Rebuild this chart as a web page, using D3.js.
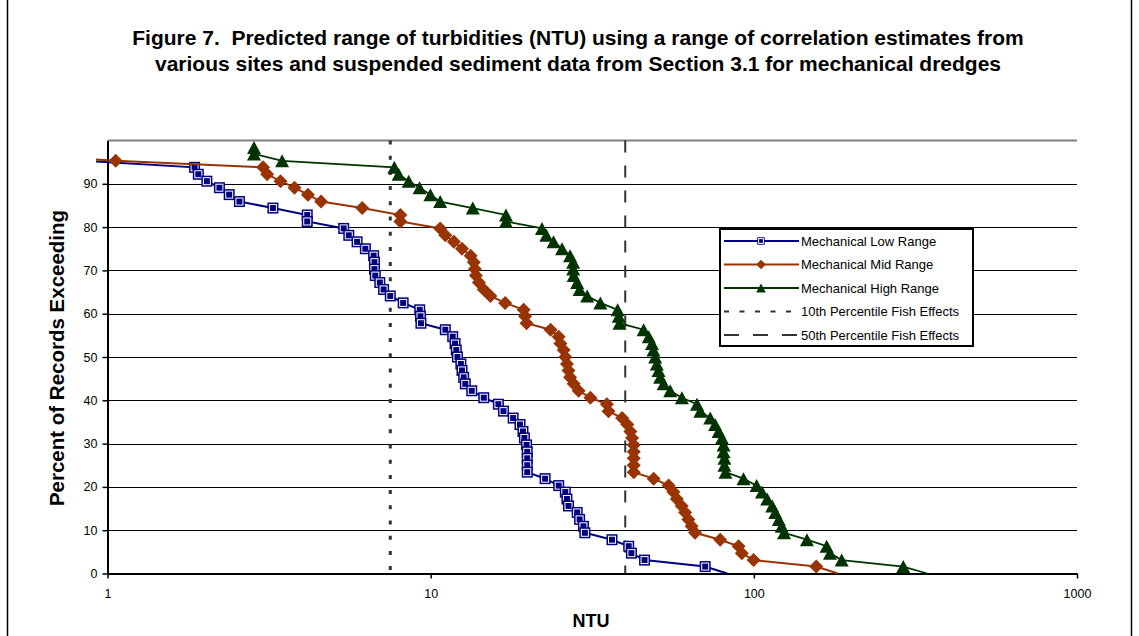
<!DOCTYPE html>
<html>
<head>
<meta charset="utf-8">
<script src="https://cdn.jsdelivr.net/npm/d3@7"></script>
<style>
  body { margin: 0; background: #fff; }
  svg { display: block; font-family: Arial, "Liberation Sans", sans-serif; }
</style>
</head>
<body>
<svg id="chart" width="1139" height="636"></svg>
<script>
// percent of records exceeding (shared by the three ranges)
const percentExceeding = [
  98.4, 96.9, 95.3, 93.8, 92.2, 90.6, 89.1, 87.5, 85.9, 84.4, 82.8, 81.3,
  79.7, 78.1, 76.6, 75.0, 73.4, 71.9, 70.3, 68.8, 67.2, 65.6, 64.1, 62.5,
  60.9, 59.4, 57.8, 56.3, 54.7, 53.1, 51.6, 50.0, 48.4, 46.9, 45.3, 43.8,
  42.2, 40.6, 39.1, 37.5, 35.9, 34.4, 32.8, 31.3, 29.7, 28.1, 26.6, 25.0,
  23.4, 21.9, 20.3, 18.8, 17.2, 15.6, 14.1, 12.5, 10.9, 9.4, 7.8, 6.3,
  4.7, 3.1, 1.6, 0,
];

// NTU values
const lowRange = [
  0.68, 0.68, 0.84, 1.86, 1.91, 2.03, 2.22, 2.38, 2.56, 3.25, 4.15, 4.15,
  5.38, 5.58, 5.92, 6.28, 6.66, 6.7, 6.7, 6.74, 6.96, 7.15, 7.5, 8.22,
  9.25, 9.3, 9.33, 11.1, 11.7, 11.9, 12.0, 12.1, 12.4, 12.5, 12.65, 12.8,
  13.4, 14.6, 16.2, 16.8, 18.0, 18.9, 19.3, 19.5, 19.8, 19.9, 19.9, 19.9,
  19.9, 22.6, 24.9, 26.1, 26.4, 26.7, 28.4, 28.9, 29.7, 30.0, 36.4, 41.0,
  41.8, 45.9, 70.7, 82.7,
];
const midRange = [
  0.2, 0.5, 1.06, 3.03, 3.12, 3.43, 3.79, 4.17, 4.58, 6.14, 8.06, 8.06,
  10.7, 11.1, 11.8, 12.5, 13.3, 13.6, 13.7, 13.8, 14.1, 14.6, 15.3, 17.0,
  19.4, 19.6, 19.8, 23.5, 24.9, 25.2, 25.8, 26.1, 26.4, 26.7, 27.0, 27.7,
  28.7, 31.2, 35.1, 35.5, 39.1, 40.6, 41.5, 42.0, 42.5, 42.5, 42.5, 42.5,
  42.5, 49.0, 54.5, 56.4, 57.8, 59.8, 61.3, 62.7, 64.2, 65.8, 78.7, 89.7,
  91.8, 99.8, 156, 182,
];
const highRange = [
  2.84, 2.84, 3.47, 7.72, 7.96, 8.55, 9.24, 9.98, 10.7, 13.5, 17.1, 17.1,
  22.1, 22.8, 24.0, 25.5, 27.0, 27.6, 27.6, 27.7, 28.4, 28.9, 30.5, 33.5,
  37.9, 38.2, 38.4, 45.6, 47.3, 48.4, 48.9, 49.5, 50.1, 50.7, 51.3, 52.6,
  55.1, 59.9, 66.7, 68.3, 73.3, 75.9, 77.8, 79.7, 80.6, 80.6, 81.1, 81.1,
  81.7, 92.9, 102, 106, 110, 114, 116.5, 119.5, 122, 124, 146, 168,
  172, 187, 290, 344,
];

const seriesNames = [
  'Mechanical Low Range',
  'Mechanical Mid Range',
  'Mechanical High Range',
  '10th Percentile Fish Effects',
  '50th Percentile Fish Effects',
];
const fishEffects = [7.5, 40];
const xTicks = [1, 10, 100, 1000];
const yTicks = [0, 10, 20, 30, 40, 50, 60, 70, 80, 90];

const titleLines = [
  'Figure 7.  Predicted range of turbidities (NTU) using a range of correlation estimates from',
  'various sites and suspended sediment data from Section 3.1 for mechanical dredges',
];

const plot = {left: 107.5, right: 1077, top: 140.5, bottom: 573.5};

const x = d3.scaleLog().domain([1, 1000]).range([plot.left, plot.right]);
const y = d3.scaleLinear().domain([0, 100]).range([plot.bottom, plot.top]);

const svg = d3.select('#chart');

// outer chart frame
svg.append('rect')
    .attr('x', 7.5).attr('y', -2)
    .attr('width', 1124).attr('height', 642)
    .attr('fill', '#fff')
    .attr('stroke', '#000')
    .attr('stroke-width', 1.5);

// title
svg.append('g')
    .selectAll('text')
    .data(titleLines)
    .join('text')
    .attr('x', 578)
    .attr('y', (d, i) => 45 + i * 26)
    .attr('text-anchor', 'middle')
    .attr('font-size', 21)
    .attr('font-weight', 'bold')
    .style('white-space', 'pre')
    .text((d) => d);

svg.append('defs')
    .append('clipPath')
    .attr('id', 'plot-clip')
    .append('rect')
    .attr('x', 96)
    .attr('y', plot.top - 8)
    .attr('width', plot.right - 96 + 10)
    .attr('height', plot.bottom - plot.top + 12);

// grid lines
svg.append('g')
    .selectAll('line')
    .data(yTicks.filter((d) => d > 0))
    .join('line')
    .attr('x1', plot.left)
    .attr('x2', plot.right)
    .attr('y1', (d) => Math.round(y(d)) + 0.5)
    .attr('y2', (d) => Math.round(y(d)) + 0.5)
    .attr('stroke', '#000')
    .attr('stroke-width', 1);

// plot area top border
svg.append('line')
    .attr('x1', plot.left).attr('x2', plot.right)
    .attr('y1', plot.top).attr('y2', plot.top)
    .attr('stroke', '#808080')
    .attr('stroke-width', 2);

// fish effect thresholds
const refStyles = [
  {width: 3, dash: '4,11.2'},
  {width: 2, dash: '12,13'},
];
svg.append('g')
    .selectAll('line')
    .data(fishEffects)
    .join('line')
    .attr('x1', (d) => x(d)).attr('x2', (d) => x(d))
    .attr('y1', plot.top).attr('y2', plot.bottom)
    .attr('stroke', '#333')
    .attr('stroke-width', (d, i) => refStyles[i].width)
    .attr('stroke-dasharray', (d, i) => refStyles[i].dash);

// axes
const yAxis = svg.append('g')
    .attr('transform', `translate(${plot.left},0)`)
    .call(d3.axisLeft(y).tickValues(yTicks).tickSize(5).tickSizeOuter(0).tickPadding(5));
const xAxis = svg.append('g')
    .attr('transform', `translate(0,${plot.bottom})`)
    .call(d3.axisBottom(x).tickValues(xTicks).tickFormat(d3.format('d'))
        .tickSize(5).tickSizeOuter(0).tickPadding(11));
[yAxis, xAxis].forEach((g) => {
  g.select('.domain').attr('stroke', '#000').attr('stroke-width', 2);
  g.selectAll('.tick line').attr('stroke', '#000').attr('stroke-width', 1.5);
  g.selectAll('.tick text')
      .attr('fill', '#000')
      .attr('font-size', 12.5)
      .attr('font-family', 'Arial, "Liberation Sans", sans-serif');
});

// axis titles
svg.append('text')
    .attr('transform', 'translate(64,358) rotate(-90)')
    .attr('text-anchor', 'middle')
    .attr('font-size', 20.5)
    .attr('font-weight', 'bold')
    .text('Percent of Records Exceeding');
svg.append('text')
    .attr('x', 591)
    .attr('y', 627)
    .attr('text-anchor', 'middle')
    .attr('font-size', 18)
    .attr('font-weight', 'bold')
    .text('NTU');

// marker drawers
const drawSquare = (sel, s) => {
  sel.append('rect')
      .attr('x', -5.5 * s).attr('y', -5.5 * s)
      .attr('width', 11 * s).attr('height', 11 * s)
      .attr('fill', '#000080');
  sel.append('rect')
      .attr('x', -3.5 * s).attr('y', -3.5 * s)
      .attr('width', 7 * s).attr('height', 7 * s)
      .attr('fill', 'none')
      .attr('stroke', '#fff')
      .attr('stroke-width', 1);
};
const drawDiamond = (sel, s) => {
  sel.append('path')
      .attr('d', `M0,${-7 * s}L${7 * s},0L0,${7 * s}L${-7 * s},0Z`)
      .attr('fill', '#993300');
};
const drawTriangle = (sel, s) => {
  sel.append('path')
      .attr('d', `M0,${-6.5 * s}L${7 * s},${6.5 * s}L${-7 * s},${6.5 * s}Z`)
      .attr('fill', '#003300');
};

const series = [
  {name: seriesNames[0], values: lowRange, color: '#000080', width: 2, marker: drawSquare},
  {name: seriesNames[1], values: midRange, color: '#993300', width: 2, marker: drawDiamond},
  {name: seriesNames[2], values: highRange, color: '#003300', width: 1.8, marker: drawTriangle},
];

const line = d3.line()
    .x((d) => x(d.ntu))
    .y((d) => y(d.pct));

const seriesG = svg.append('g').attr('clip-path', 'url(#plot-clip)');
series.forEach((s) => {
  const pts = s.values.map((v, i) => ({ntu: v, pct: percentExceeding[i]}));
  seriesG.append('path')
      .datum(pts)
      .attr('fill', 'none')
      .attr('stroke', s.color)
      .attr('stroke-width', s.width)
      .attr('d', line);
  seriesG.append('g')
      .selectAll('g')
      .data(pts.filter((d) => d.pct > 0))
      .join('g')
      .attr('transform', (d) => `translate(${x(d.ntu)},${y(d.pct)})`)
      .each(function() {
        s.marker(d3.select(this), 1);
      });
});

// legend
const legend = svg.append('g');
legend.append('rect')
    .attr('x', 720).attr('y', 229)
    .attr('width', 253).attr('height', 117)
    .attr('fill', '#fff')
    .attr('stroke', '#000')
    .attr('stroke-width', 2);

const legendItems = [
  {name: seriesNames[0], color: '#000080', width: 2, marker: drawSquare},
  {name: seriesNames[1], color: '#993300', width: 2, marker: drawDiamond},
  {name: seriesNames[2], color: '#003300', width: 1.8, marker: drawTriangle},
  {name: seriesNames[3], color: '#333', width: 2, dash: '5,10.5'},
  {name: seriesNames[4], color: '#333', width: 2, dash: '15,14'},
];
legendItems.forEach((d, i) => {
  const cy = 241 + i * 23.5;
  const g = legend.append('g');
  g.append('line')
      .attr('x1', 724).attr('x2', 799)
      .attr('y1', cy).attr('y2', cy)
      .attr('stroke', d.color)
      .attr('stroke-width', d.width)
      .attr('stroke-dasharray', d.dash || null);
  if (d.marker) {
    const m = g.append('g').attr('transform', `translate(761,${cy})`);
    d.marker(m, 0.68);
  }
  g.append('text')
      .attr('x', 801)
      .attr('y', cy + 4.5)
      .attr('font-size', 13)
      .attr('fill', '#000')
      .text(d.name);
});
</script>
</body>
</html>
